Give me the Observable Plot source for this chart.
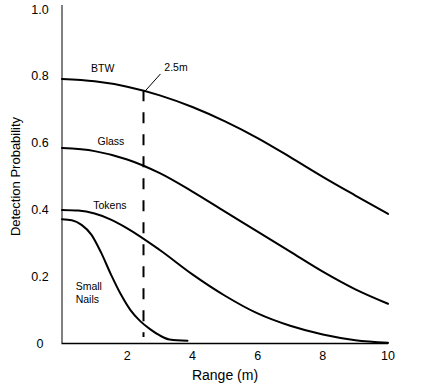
<!DOCTYPE html>
<html><head><meta charset="utf-8">
<script src="https://cdn.jsdelivr.net/npm/d3@7"></script>
<script src="https://cdn.jsdelivr.net/npm/@observablehq/plot@0.6"></script>
<style>body{margin:0;background:#fff;}</style>
</head><body><div id="chart"></div>
<script>
// Data
const rangeBTW = [0, 1, 2, 3, 4, 5, 6, 7, 8, 9, 10];
const probBTW  = [0.792, 0.785, 0.769, 0.743, 0.708, 0.665, 0.615, 0.558, 0.499, 0.443, 0.388];

const rangeGlass = [0, 1, 2, 3, 4, 5, 6, 7, 8, 9, 10];
const probGlass  = [0.585, 0.576, 0.551, 0.51, 0.455, 0.395, 0.335, 0.275, 0.215, 0.162, 0.119];

const rangeTokens = [0, 0.5, 1, 1.5, 2, 3, 4, 5, 6, 7, 8, 9, 10];
const probTokens  = [0.40, 0.398, 0.389, 0.371, 0.345, 0.28, 0.207, 0.143, 0.09, 0.053, 0.027, 0.01, 0.002];

const rangeNails = [0, 0.3, 0.6, 0.9, 1.2, 1.5, 1.8, 2.1, 2.4, 2.7, 3.0, 3.3, 3.85];
const probNails  = [0.372, 0.369, 0.355, 0.326, 0.272, 0.207, 0.148, 0.1, 0.067, 0.043, 0.024, 0.012, 0.008];

const xTicks = [2, 4, 6, 8, 10];
const yTicks = [0, 0.2, 0.4, 0.6, 0.8, 1.0];

const labelNames = ["BTW", "Glass", "Tokens"];
const labelX = [1.25, 1.5, 1.47];
const labelY = [0.822, 0.604, 0.413];
const nailsLabel = "Small\nNails";
const nailsX = 0.42;
const nailsY = 0.154;

const markerRange = 2.5;
const markerTop = 0.757;
const markerText = "2.5m";

const xTitle = "Range (m)";
const yTitle = "Detection Probability";

// Build table
const series = [
  ["BTW", rangeBTW, probBTW],
  ["Glass", rangeGlass, probGlass],
  ["Tokens", rangeTokens, probTokens],
  ["Small Nails", rangeNails, probNails]
];
const rows = series.flatMap(([name, xs, ys]) => xs.map((x, i) => ({item: name, range: x, prob: ys[i]})));
const labels = labelNames.map((t, i) => ({text: t, x: labelX[i], y: labelY[i]}));

const chart = Plot.plot({
  width: 425,
  height: 391,
  marginLeft: 61.5,
  marginRight: 37.5,
  marginTop: 9,
  marginBottom: 48,
  x: {domain: [0, 10]},
  y: {domain: [0, 1]},
  style: {fontFamily: "'Liberation Sans', Arial, sans-serif", background: "white", color: "black"},
  marks: [
    Plot.axisY(yTicks, {tickSize: 0, tickFormat: d => d === 0 ? "0" : d.toFixed(1), fontSize: 12.5, textAnchor: "middle", dx: -13, label: null}),
    Plot.axisX(xTicks, {tickSize: 0, tickPadding: 8, fontSize: 12.5, label: null}),
    Plot.ruleX([0], {y1: 0, y2: 1.012, stroke: "#808080", strokeWidth: 2}),
    Plot.ruleY([0], {x1: 0, x2: 10.02, stroke: "black", strokeWidth: 1.5}),
    Plot.line(rows, {x: "range", y: "prob", z: "item", curve: "monotone-x", stroke: "black", strokeWidth: 2}),
    Plot.ruleX([markerRange], {y1: markerTop, y2: 0.018, stroke: "black", strokeWidth: 2, strokeDasharray: "11,11"}),
    Plot.link([{x1: 2.56, y1: 0.757, x2: 3.02, y2: 0.807}], {x1: "x1", y1: "y1", x2: "x2", y2: "y2", stroke: "black", strokeWidth: 1}),
    Plot.text([markerText], {x: 3.14, y: 0.825, textAnchor: "start", fontSize: 10.5}),
    Plot.text(labels, {x: "x", y: "y", text: "text", fontSize: 10.5, textAnchor: "middle"}),
    Plot.text([nailsLabel], {x: nailsX, y: nailsY, fontSize: 10.5, lineHeight: 1.25, textAnchor: "start"}),
    Plot.text([xTitle], {frameAnchor: "bottom", textAnchor: "middle", dy: 36, dx: 0, fontSize: 14}),
    Plot.text([yTitle], {frameAnchor: "left", textAnchor: "middle", rotate: -90, dx: -46.5, fontSize: 13})
  ]
});
document.getElementById("chart").append(chart);
</script>
</body></html>
